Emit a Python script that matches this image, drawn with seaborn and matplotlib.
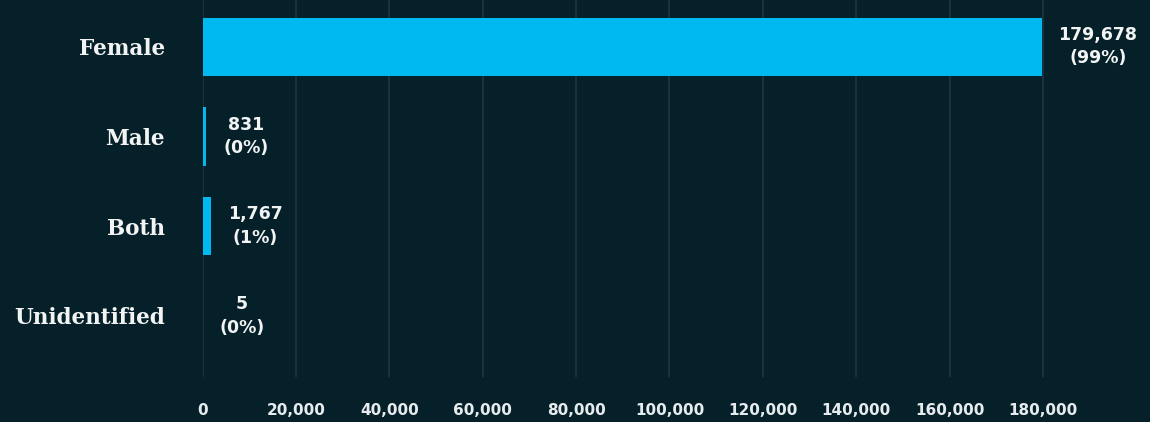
import matplotlib
matplotlib.use("Agg")
import matplotlib.pyplot as plt
import matplotlib.ticker as mticker
import seaborn as sns
import pandas as pd

# Counts by sex
categories = ["Female", "Male", "Both", "Unidentified"]
counts = [179678, 831, 1767, 5]
x_ticks = [0, 20000, 40000, 60000, 80000, 100000, 120000, 140000, 160000, 180000]

BG = "#06202a"
BAR = "#00b9ee"
GRID = "#1f3a45"
TEXT = "#f2f4f4"
SANS = ["DejaVu Sans"]

sns.set_theme(style="white")
plt.rcParams["font.family"] = SANS

df = pd.DataFrame({"category": categories, "count": counts})
total = sum(counts)

fig = plt.figure(figsize=(11.5, 4.22), dpi=100, facecolor=BG)
ax = fig.add_axes([0.1761, 0.1066, 0.8239, 0.8934])
ax.set_facecolor(BG)

sns.barplot(data=df, x="count", y="category", orient="h", color=BAR,
            saturation=1, width=0.65, linewidth=0, edgecolor=BAR,
            ax=ax, zorder=3)

ax.set_xlim(0, 202900)
ax.set_ylim(3.68, -0.52)
ax.set_xticks(x_ticks)
ax.xaxis.set_major_formatter(mticker.FuncFormatter(lambda v, p: f"{int(v):,}"))
ax.grid(axis="x", color=GRID, linewidth=1.1, zorder=0)
ax.grid(axis="y", visible=False)
for s in ax.spines.values():
    s.set_visible(False)

ax.set_xlabel("")
ax.set_ylabel("")
ax.tick_params(axis="x", length=0, pad=19, labelcolor="#e6ecee")
ax.tick_params(axis="y", length=0, pad=27, labelcolor=TEXT)
for lab in ax.get_xticklabels():
    lab.set_fontsize(11)
    lab.set_fontweight("bold")
    lab.set_family(SANS)
for lab in ax.get_yticklabels():
    lab.set_fontsize(15.5)
    lab.set_fontweight("bold")
    lab.set_family(["DejaVu Serif"])

# Value labels with share of total
for i, v in enumerate(counts):
    pct = round(100 * v / total)
    ax.annotate(f"{v:,}\n({pct}%)", xy=(v, i), xytext=(17, 0),
                textcoords="offset pixels", ha="left", va="center",
                multialignment="center", color=TEXT, fontsize=12.5,
                fontweight="bold", family=SANS, linespacing=1.4, zorder=4)

fig.savefig("out.png", dpi=100, facecolor=BG)
